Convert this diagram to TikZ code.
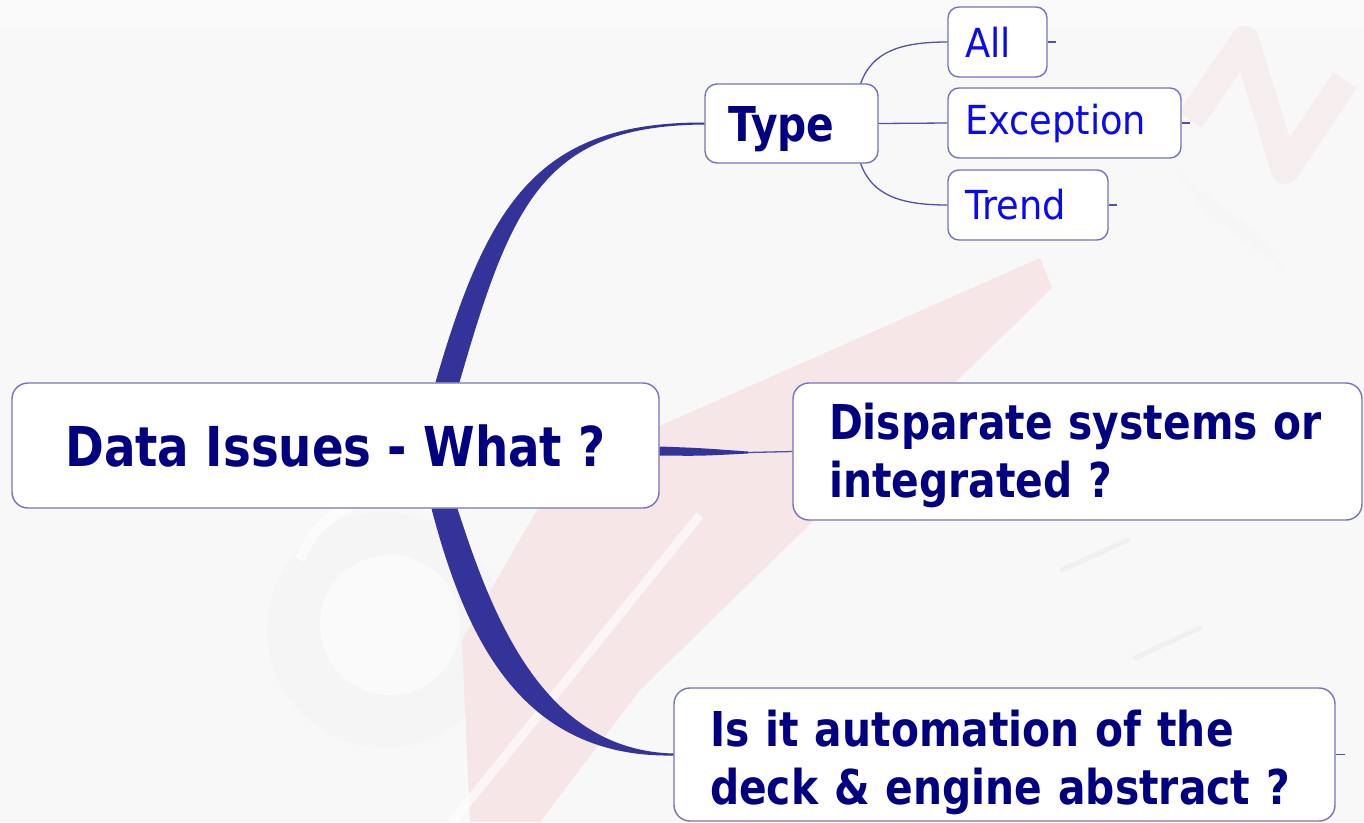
\documentclass[tikz,border=0pt]{standalone}
\usepackage{fontspec}
\newfontfamily\tahb{DejaVu Sans}[FakeStretch=0.85,BoldFont={DejaVu Sans Bold}]
\newfontfamily\tahr{DejaVu Sans}[FakeStretch=0.92]
\usetikzlibrary{calc}
\definecolor{bgc}{HTML}{F8F8F8}
\definecolor{navytxt}{HTML}{000080}
\definecolor{leaftxt}{HTML}{0A0AF0}
\definecolor{connc}{HTML}{333399}
\definecolor{boxc}{HTML}{7474BC}
\definecolor{pinkc}{HTML}{F6E6E8}
\tikzset{
  mmbox/.style={draw=boxc, line width=1.4pt, fill=white, rounded corners=16pt, inner sep=0pt, anchor=center},
  leafbox/.style={mmbox, rounded corners=11pt, minimum height=70pt, text=leaftxt, align=left,
     font=\tahr\fontsize{40}{48}\selectfont},
  bigtxt/.style={text=navytxt, font=\tahb\bfseries\fontsize{48}{58}\selectfont, align=left},
  thick conn/.style={fill=connc, draw=none},
  thinconn/.style={draw=connc!85, line width=1.3pt}
}
\begin{document}
\begin{tikzpicture}[x=1pt,y=-1pt]
\useasboundingbox (0,0) rectangle (1364,822);
% background scene (faded compass)
\fill[bgc] (0,0) rectangle (1364,822);
\fill[gray!5] (0,0) rectangle (1364,28);
\fill[gray!8] (385,630) circle (118);
\draw[white, line width=10pt, opacity=0.6] (300,560) arc (200:320:95);
\fill[gray!4] (390,625) circle (70);
\fill[pinkc] (1040,258) -- (1052,288) -- (640,690) -- (540,822) -- (470,822) -- (462,640) -- (560,470) -- cycle;
\draw[white, line width=9pt, opacity=0.6] (700,515) -- (452,822);
\draw[pinkc, line width=28pt, line join=round, opacity=0.6] (1190,120) -- (1245,40) -- (1285,170) -- (1345,80);
\foreach \i in {0,...,6}{
  \draw[gray!7, line width=4pt] ($(1180,175)+(\i*12,\i*9)$) -- ++(30,40);
}
\draw[gray!12, line width=5pt, line cap=round] (1062,570) -- (1128,540);
\draw[gray!12, line width=5pt, line cap=round] (1135,658) -- (1200,628);

% nodes
\node[mmbox, minimum width=647pt, minimum height=125pt, text=navytxt,
  font=\tahb\bfseries\fontsize{55}{66}\selectfont] (root) at (335.5,445.5) {Data Issues - What ?};
\node[mmbox, rounded corners=12pt, minimum width=173pt, minimum height=79pt, bigtxt, text width=127pt] (type) at (791.5,123.5) {\rule{0pt}{46pt}Type};
\node[leafbox, minimum width=99pt, text width=65pt] (all) at (997.5,42) {All};
\node[leafbox, minimum width=233pt, text width=199pt] (exc) at (1064.5,123) {Exception};
\node[leafbox, minimum width=160pt, text width=126pt] (trend) at (1028,205) {Trend};
\node[mmbox, minimum width=569pt, minimum height=137pt, bigtxt, text width=497pt] (disp) at (1077.5,451.5) {\rule{0pt}{44pt}Disparate systems or\\integrated ?};
\node[mmbox, minimum width=661pt, minimum height=133pt, bigtxt, text width=589pt] (auto) at (1004.5,754.5) {\rule{0pt}{52pt}Is it automation of the\\deck \& engine abstract ?};

% main tapered branches
\fill[thick conn] ([xshift=100pt]root.north) .. controls (488,200) and (540,122) .. ([yshift=1pt]type.west)
   -- ([yshift=-1pt]type.west) .. controls (545,126) and (512,200) .. ([xshift=124pt]root.north) -- cycle;
\fill[thick conn] ([xshift=96pt]root.south) .. controls (466,640) and (522,758) .. ([yshift=-1pt]auto.west)
   -- ([yshift=1pt]auto.west) .. controls (545,750) and (494,622) .. ([xshift=122pt]root.south) -- cycle;
\coordinate (mid) at (748,452.5);
\fill[thick conn] ([yshift=-1pt]root.east) .. controls (700,448) .. ([yshift=1pt]mid)
   -- ([yshift=-1pt]mid) .. controls (700,456) .. ([yshift=-10pt]root.east) -- cycle;
\draw[thinconn] (mid) -- (disp.west);

% sub branches
\draw[thinconn] ([xshift=-18pt]type.north east) .. controls (872,52) and (900,42) .. (all.west);
\draw[thinconn] (type.east) -- (exc.west);
\draw[thinconn] ([xshift=-18pt]type.south east) .. controls (872,195) and (900,205) .. (trend.west);
\draw[thinconn] (all.east) -- ++(8,0);
\draw[thinconn] (exc.east) -- ++(8,0);
\draw[thinconn] (trend.east) -- ++(8,0);
\draw[thinconn] (auto.east) -- ++(9,0);
\end{tikzpicture}
\end{document}
